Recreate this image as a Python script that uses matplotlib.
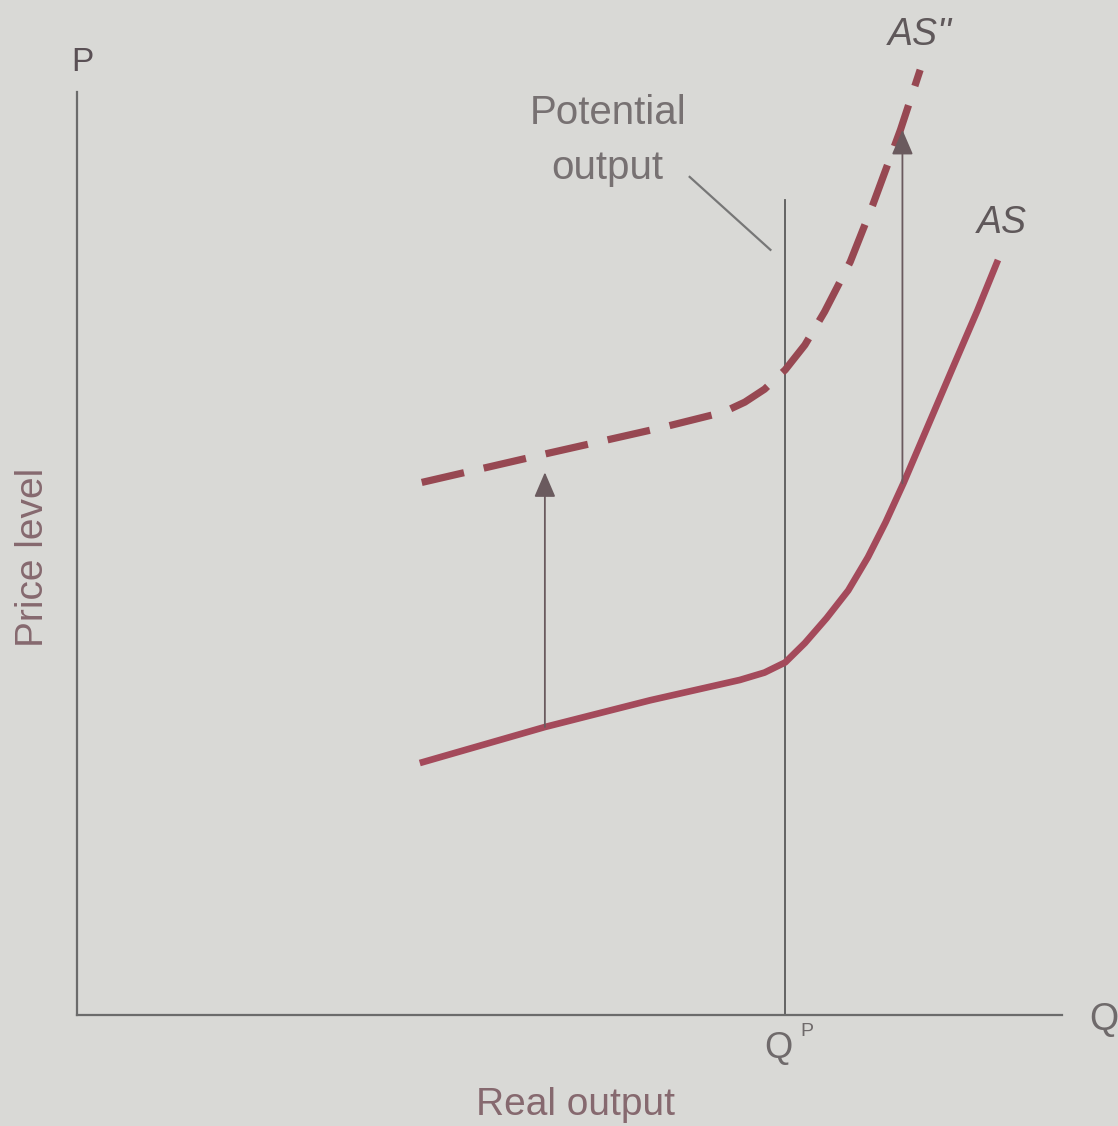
import matplotlib
matplotlib.use("Agg")
import matplotlib.pyplot as plt

# ---- data (abstract units 0..100) ----
as_x = [34.8, 47.5, 58.2, 67.3, 69.8, 71.9, 73.9, 76.1, 78.3, 80.3, 82.1, 83.9, 86.3, 88.9, 91.4, 93.5]
as_y = [27.3, 31.2, 34.1, 36.3, 37.1, 38.2, 40.3, 43.0, 46.0, 49.6, 53.4, 57.6, 63.6, 70.1, 76.3, 81.8]

as2_x = [35.0, 48.0, 59.2, 65.6, 67.8, 69.8, 71.9, 73.9, 75.9, 78.5, 80.8, 83.6, 85.6]
as2_y = [57.7, 60.9, 63.6, 65.3, 66.4, 67.8, 69.9, 72.6, 76.2, 81.6, 87.8, 95.9, 102.4]

q_potential = 71.9
q_potential_top = 88.3

arrow_x = [47.5, 83.8]
arrow_from = [31.2, 57.6]
arrow_to = [58.8, 95.9]

pointer_x = [62.2, 70.4]
pointer_y = [90.8, 82.9]

BG = "#d9d9d6"
CURVE = "#a44a5b"
CURVE2 = "#974852"
GRAY = "#6b6b6b"
FONT = "Liberation Sans"

fig = plt.figure(figsize=(11.18, 11.26), dpi=100, facecolor=BG)
ax = fig.add_axes([77 / 1118, (1126 - 1015) / 1126, (1062 - 77) / 1118, (1015 - 92) / 1126])
ax.set_facecolor("none")
ax.set_xlim(0, 100)
ax.set_ylim(0, 100)
ax.set_xticks([])
ax.set_yticks([])
for s in ["top", "right"]:
    ax.spines[s].set_visible(False)
for s in ["left", "bottom"]:
    ax.spines[s].set_color(GRAY)
    ax.spines[s].set_linewidth(1.6)

# potential output line
ax.plot([q_potential, q_potential], [0, q_potential_top], color="#5a5a5a", lw=1.3, zorder=2)
ax.plot(pointer_x, pointer_y, color="#777777", lw=1.6, zorder=2)

# curves
ax.plot(as_x, as_y, color=CURVE, lw=4.8, solid_capstyle="butt", solid_joinstyle="round", zorder=3)
ln, = ax.plot(as2_x, as2_y, color=CURVE2, lw=5.2, solid_capstyle="butt",
              dash_capstyle="butt", dash_joinstyle="round", clip_on=False, zorder=3)
ln.set_dashes((6, 2.8))

# arrows
for xa, y0, y1 in zip(arrow_x, arrow_from, arrow_to):
    ax.annotate("", xy=(xa, y1), xytext=(xa, y0),
                arrowprops=dict(arrowstyle="-|>,head_length=0.7,head_width=0.3",
                                color="#6a5a5e", lw=1.3, shrinkA=0, shrinkB=0,
                                mutation_scale=22),
                annotation_clip=False, zorder=4)

# text
tc = "#6f6a6b"
ax.text(53.9, 97.7, "Potential", ha="center", va="center", fontsize=29, color="#777172", family=FONT)
ax.text(53.8, 91.8, "output", ha="center", va="center", fontsize=29, color="#777172", family=FONT)
ax.text(85.6, 106.2, "AS''", ha="center", va="center", fontsize=27, style="italic", color="#5f585a", family=FONT)
ax.text(93.9, 85.8, "AS", ha="center", va="center", fontsize=27, style="italic", color="#5f585a", family=FONT)
ax.text(0.5, 103.2, "P", ha="center", va="center", fontsize=24, color="#5a5055", family=FONT)
ax.text(104.2, -0.5, "Q", ha="center", va="center", fontsize=27, color=tc, family=FONT)
ax.text(71.2, -3.6, "Q", ha="center", va="center", fontsize=26, color=tc, family=FONT)
ax.text(74.1, -1.8, "P", ha="center", va="center", fontsize=14, color=tc, family=FONT)
ax.text(50.6, -9.75, "Real output", ha="center", va="center", fontsize=28, color="#86696f", family=FONT)
ax.text(-4.5, 49.6, "Price level", ha="center", va="center", fontsize=28, rotation=90, color="#86696f", family=FONT)

fig.savefig("out.png", dpi=100, facecolor=BG)
